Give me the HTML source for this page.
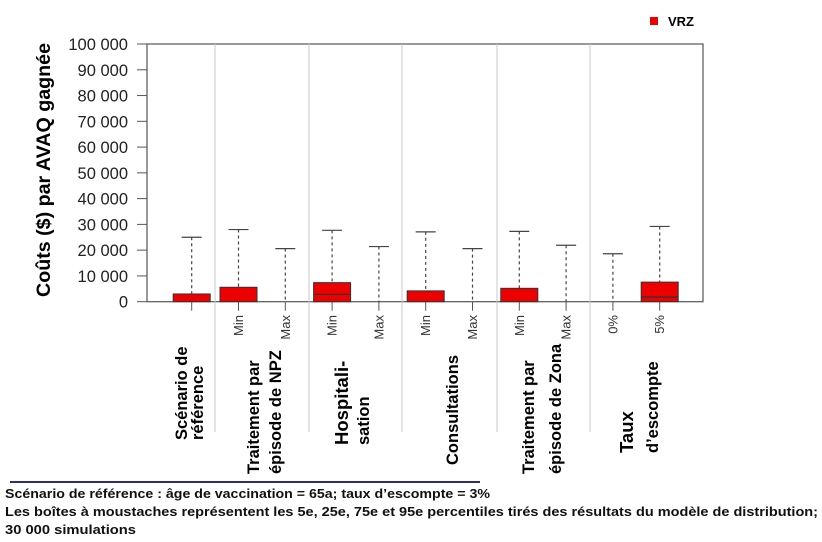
<!DOCTYPE html>
<html><head><meta charset="utf-8"><style>
html,body{margin:0;padding:0;background:#fff;}
svg{display:block;font-family:"Liberation Sans",sans-serif;}
</style></head><body>
<svg id="chart" width="822" height="542" viewBox="0 0 822 542" xmlns="http://www.w3.org/2000/svg">
<g id="plot"></g>
</svg>
<script>
const categories=["Référence","NPZ Min","NPZ Max","Hosp Min","Hosp Max","Consult Min","Consult Max","Zona Min","Zona Max","0%","5%"];
const tickText=["","Min","Max","Min","Max","Min","Max","Min","Max","0%","5%"];
const whiskerHigh=[25000,28000,20600,27700,21400,27100,20600,27300,21900,18600,29200];
const boxTop=[3000,5600,0,7400,0,4200,0,5200,0,0,7600];
const median=[0,0,0,2900,0,0,0,0,0,0,1800];
const yTicks=[0,10000,20000,30000,40000,50000,60000,70000,80000,90000,100000];
const yTickLabels=["0","10 000","20 000","30 000","40 000","50 000","60 000","70 000","80 000","90 000","100 000"];

const NS="http://www.w3.org/2000/svg";
const svg=document.getElementById('chart');
const g=document.getElementById('plot');
const L=147,R=703,T=44,B=301.7;
const y=v=>B-(v/100000)*(B-T);
const x=i=>191.7+i*46.8;
function mk(tag,attrs,parent){const e=document.createElementNS(NS,tag);for(const k in attrs)e.setAttribute(k,attrs[k]);(parent||g).appendChild(e);return e;}

let fr=mk('rect',{x:L,y:T,width:R-L,height:B-T,fill:'none',stroke:'#555','stroke-width':1.2});


[215,309,402,497,590].forEach((sx)=>{
  const s=mk('line',{x1:sx,x2:sx,y1:T,y2:432,stroke:'#c8c8c8','stroke-width':1});
  
  
});
yTicks.forEach((v,i)=>{
  const t=mk('line',{x1:137,x2:L,y1:y(v),y2:y(v),stroke:'#555','stroke-width':1});
  
  
  const tx=mk('text',{x:128,y:y(v)+6,'text-anchor':'end','font-size':16.5,fill:'#222'});
  tx.textContent=yTickLabels[i];
  
  
});
categories.forEach((c,i)=>{
  const cx=x(i);
  const tk=mk('line',{x1:cx,x2:cx,y1:B,y2:B+9,stroke:'#555','stroke-width':1});
  
  
  const w=mk('line',{x1:cx,x2:cx,y1:y(whiskerHigh[i]),y2:y(boxTop[i]),stroke:'#444','stroke-width':1.2,'stroke-dasharray':'3,3'});
  
  
  const cap=mk('line',{x1:cx-10,x2:cx+10,y1:y(whiskerHigh[i]),y2:y(whiskerHigh[i]),stroke:'#444','stroke-width':1.2});
  
  
  if(boxTop[i]>0){
    const b=mk('rect',{x:cx-18.5,y:y(boxTop[i]),width:37,height:B-y(boxTop[i]),fill:'#ee0000',stroke:'#333','stroke-width':1});
    
    
    if(median[i]>0){
      const m=mk('line',{x1:cx-18.5,x2:cx+18.5,y1:y(median[i]),y2:y(median[i]),stroke:'#333','stroke-width':1.3});
      
      
    }
  }
  if(tickText[i]){
    const tt=mk('text',{transform:`translate(${cx+4.5},315) rotate(-90)`,'text-anchor':'end','font-size':13,fill:'#333'});
    tt.textContent=tickText[i];
    
    
  }
});
const groups=[[187,440,'Scénario de',16.5],[203,440,'référence',16.5],[259,474,'Traitement par',16.5],[281,474,'épisode de NPZ',16.5],[348,445,'Hospitali-',18.5],[369,445,'sation',16.5],[458,465,'Consultations',16.5],[534,474,'Traitement par',16.5],[561,474,'épisode de Zona',16.5],[633,453,'Taux',18.5],[658,453,'d’escompte',16.5]];
groups.forEach(gr=>{
  const t=mk('text',{transform:`translate(${gr[0]},${gr[1]}) rotate(-90)`,'font-size':gr[3],'font-weight':'bold',fill:'#000'});
  t.textContent=gr[2];
  
  
});
</script>
<g></g>
<script>
(function(){
const NS="http://www.w3.org/2000/svg";const svg=document.getElementById('chart');
function mk(tag,attrs){const e=document.createElementNS(NS,tag);for(const k in attrs)e.setAttribute(k,attrs[k]);svg.appendChild(e);return e;}
const yt=mk('text',{transform:'translate(50,170) rotate(-90)','text-anchor':'middle','font-size':19,'font-weight':'bold',fill:'#000',textLength:254,lengthAdjust:'spacingAndGlyphs'});
yt.textContent='Coûts ($) par AVAQ gagnée';


const lg=mk('rect',{x:650,y:17,width:8,height:8,fill:'#ee0000'});


const lt=mk('text',{x:668,y:26,'font-size':13,'font-weight':'bold',fill:'#000'});
lt.textContent='VRZ';


const bl=mk('line',{x1:10,x2:480,y1:482,y2:482,stroke:'#2b2b8a','stroke-width':2});


const notes=[[498,'Scénario de référence : âge de vaccination = 65a; taux d’escompte = 3%',485],[516,'Les boîtes à moustaches représentent les 5e, 25e, 75e et 95e percentiles tirés des résultats du modèle de distribution;',813],[534,'30 000 simulations',131]];
notes.forEach(n=>{
  const t=mk('text',{x:5,y:n[0],'font-size':13,'font-weight':'bold',fill:'#111',textLength:n[2],lengthAdjust:'spacingAndGlyphs'});
  t.textContent=n[1];
  
  
});
})();
</script>
</body></html>
